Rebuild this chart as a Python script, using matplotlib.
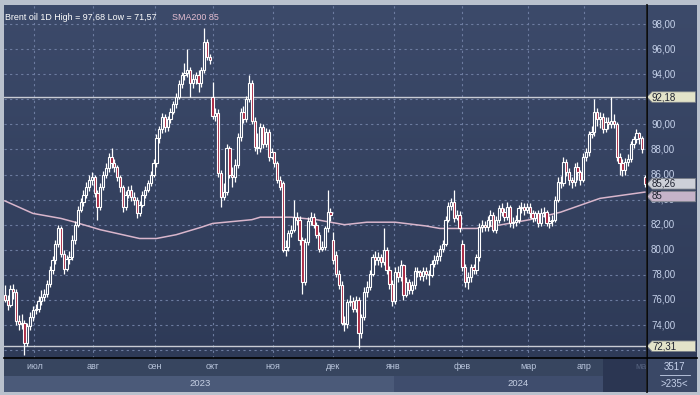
import numpy as np
import matplotlib
matplotlib.use("Agg")
import matplotlib.pyplot as plt
from matplotlib.patches import Rectangle, Polygon
from matplotlib.lines import Line2D

# daily candles, Brent oil, mid-June 2023 .. early May 2024
opens = [
    76.4, 76.0, 75.6, 76.9, 76.6, 74.3, 74.1, 74.2, 72.6, 73.9,
    74.6, 75.2, 75.3, 75.9, 76.2, 76.5, 77.3, 78.4, 79.2, 80.5,
    81.7, 79.7, 78.5, 79.3, 79.4, 80.8, 82.0, 83.2, 83.8, 84.4,
    85.0, 85.6, 85.8, 84.5, 83.4, 85.0, 86.0, 86.5, 87.4, 86.9,
    86.6, 85.8, 85.0, 83.4, 84.4, 84.8, 84.2, 84.0, 82.9, 83.6,
    84.4, 84.8, 85.3, 86.0, 86.9, 88.9, 89.6, 90.6, 89.8, 90.4,
    91.0, 91.6, 92.2, 93.2, 93.9, 94.1, 94.3, 93.3, 93.6, 93.9,
    93.3, 94.3, 96.6, 95.4, 92.2, 90.7, 90.9, 86.1, 84.2, 84.6,
    88.1, 86.0, 85.8, 86.8, 89.0, 91.0, 90.4, 92.0, 93.3, 90.3,
    88.2, 88.1, 89.8, 88.4, 89.4, 87.4, 87.8, 86.9, 85.6, 85.3,
    80.0, 80.2, 81.3, 81.6, 82.6, 82.4, 80.8, 77.4, 80.6, 82.3,
    82.6, 82.0, 81.2, 80.1, 80.2, 81.7, 83.0, 80.8, 79.6, 78.1,
    77.2, 74.2, 74.1, 75.8, 75.9, 75.3, 76.0, 73.4, 74.6, 76.6,
    77.0, 78.1, 79.4, 79.2, 79.4, 79.0, 80.0, 78.4, 77.3, 75.9,
    78.2, 77.8, 78.8, 76.4, 77.4, 76.8, 77.2, 78.3, 78.2, 77.9,
    78.3, 78.1, 78.0, 78.9, 79.2, 79.5, 80.1, 80.5, 82.4, 83.5,
    83.8, 82.5, 82.8, 80.5, 78.6, 77.4, 77.8, 78.6, 78.4, 79.4,
    81.8, 82.0, 81.8, 82.4, 82.8, 81.6, 82.4, 83.3, 83.0, 82.6,
    83.4, 82.1, 82.2, 82.4, 83.3, 83.4, 83.2, 83.4, 82.9, 82.5,
    82.9, 82.1, 82.9, 83.0, 82.1, 82.3, 82.4, 84.0, 85.4, 85.3,
    87.0, 86.2, 85.6, 85.4, 86.6, 86.2, 85.6, 87.4, 87.8, 89.2,
    89.4, 91.0, 90.4, 90.6, 89.6, 90.2, 90.0, 90.3, 90.0, 87.4,
    86.9, 86.4, 87.0, 87.2, 88.4, 88.8, 89.3, 88.9, 85.8,
]
highs = [
    77.2, 76.4, 77.2, 77.3, 76.9, 74.8, 74.9, 74.4, 74.2, 75.0,
    75.5, 75.7, 76.3, 76.8, 76.9, 77.6, 78.7, 79.5, 80.8, 82.0,
    81.9, 80.0, 79.6, 79.9, 81.2, 82.3, 83.5, 84.1, 84.8, 85.4,
    86.0, 86.2, 86.0, 84.8, 85.3, 86.3, 86.9, 87.7, 88.1, 87.2,
    86.8, 86.0, 85.2, 84.7, 85.1, 85.2, 84.6, 84.2, 83.9, 84.7,
    85.1, 85.6, 86.3, 87.2, 89.2, 89.9, 90.9, 90.8, 90.7, 91.3,
    91.9, 92.5, 93.5, 94.2, 94.9, 96.0, 94.6, 94.0, 94.2, 94.3,
    94.6, 97.7, 96.8, 95.6, 93.4, 91.3, 91.2, 86.4, 85.3, 88.4,
    88.3, 86.6, 87.2, 89.3, 91.3, 91.5, 92.3, 93.9, 93.5, 90.6,
    89.3, 90.1, 90.0, 89.7, 89.6, 88.1, 87.8, 87.1, 85.9, 85.5,
    80.8, 81.6, 82.0, 84.0, 83.0, 82.7, 81.0, 80.9, 82.6, 83.0,
    82.9, 82.2, 81.4, 80.7, 81.9, 84.8, 83.3, 81.4, 79.9, 78.4,
    77.5, 74.7, 76.1, 76.4, 76.2, 76.3, 76.2, 74.9, 77.0, 77.5,
    78.4, 79.7, 79.9, 79.8, 79.7, 81.7, 80.2, 78.7, 77.6, 78.6,
    78.7, 79.2, 78.9, 77.8, 77.7, 77.5, 78.6, 78.6, 78.4, 78.6,
    78.6, 78.4, 79.2, 79.6, 79.8, 80.4, 80.8, 82.7, 83.8, 84.1,
    84.8, 83.2, 83.1, 80.8, 78.9, 78.2, 78.9, 78.9, 79.7, 82.1,
    82.4, 82.3, 82.7, 83.2, 83.0, 82.7, 83.6, 83.7, 83.3, 83.8,
    83.6, 82.6, 82.8, 83.6, 83.8, 83.7, 83.7, 83.7, 83.2, 83.1,
    83.2, 83.3, 83.4, 83.2, 82.7, 82.8, 84.3, 85.8, 85.9, 87.4,
    87.2, 86.5, 85.8, 86.9, 87.0, 86.4, 87.7, 88.1, 89.5, 89.9,
    92.0, 91.3, 91.0, 90.9, 90.6, 90.6, 92.2, 90.8, 90.2, 87.7,
    87.2, 87.3, 87.6, 88.7, 89.1, 89.6, 89.4, 89.1, 86.0,
]
lows = [
    75.8, 75.2, 75.4, 76.1, 74.0, 73.6, 73.7, 71.6, 72.3, 73.6,
    74.3, 74.9, 75.0, 75.6, 75.9, 76.2, 77.0, 78.1, 78.9, 80.2,
    79.4, 78.1, 78.3, 78.9, 79.2, 80.5, 81.8, 83.0, 83.5, 84.1,
    84.7, 85.2, 84.2, 82.4, 83.2, 84.8, 85.7, 86.2, 86.5, 86.2,
    85.5, 84.6, 83.0, 83.2, 84.1, 83.9, 83.6, 82.5, 82.7, 83.4,
    84.1, 84.6, 85.1, 85.8, 86.6, 88.5, 89.3, 89.4, 89.5, 90.1,
    90.8, 91.3, 92.0, 92.9, 93.5, 93.8, 92.2, 92.9, 93.2, 92.6,
    93.0, 94.1, 95.1, 94.8, 90.4, 90.3, 85.8, 83.4, 84.0, 84.4,
    85.7, 85.0, 85.4, 86.5, 88.7, 90.1, 90.2, 91.8, 90.0, 87.9,
    87.6, 87.8, 88.1, 88.2, 87.1, 87.2, 86.6, 85.3, 84.8, 79.8,
    79.5, 79.9, 81.0, 81.4, 82.0, 80.4, 76.5, 77.2, 80.4, 82.0,
    81.7, 80.9, 79.8, 79.9, 80.0, 81.4, 82.3, 78.9, 77.8, 76.9,
    74.0, 73.5, 73.8, 75.5, 75.0, 75.0, 72.2, 73.0, 74.4, 76.2,
    76.8, 77.9, 78.8, 78.8, 78.6, 78.8, 78.1, 76.9, 75.5, 75.7,
    77.4, 77.5, 76.0, 76.2, 76.5, 76.5, 76.9, 77.8, 77.6, 77.5,
    77.7, 77.2, 77.8, 78.6, 78.9, 79.1, 79.8, 80.3, 82.2, 83.2,
    82.2, 82.4, 81.4, 78.3, 77.0, 76.9, 77.4, 78.1, 78.1, 79.1,
    81.4, 81.5, 81.5, 81.9, 81.4, 81.3, 82.1, 82.7, 82.3, 82.4,
    81.8, 81.7, 81.9, 82.1, 82.9, 82.8, 82.9, 82.5, 82.2, 82.3,
    81.8, 81.9, 82.6, 81.9, 81.7, 81.9, 82.2, 83.8, 84.9, 85.1,
    85.9, 85.2, 84.9, 85.1, 85.6, 85.2, 85.4, 87.1, 87.5, 88.9,
    89.1, 89.9, 89.7, 89.3, 89.4, 89.6, 89.7, 89.7, 87.1, 86.0,
    85.9, 86.0, 86.7, 87.0, 88.1, 88.5, 88.4, 87.7, 85.0,
]
closes = [
    76.0, 75.6, 76.9, 76.6, 74.3, 74.1, 74.2, 72.6, 73.9, 74.6,
    75.2, 75.3, 75.9, 76.2, 76.5, 77.3, 78.4, 79.2, 80.5, 81.7,
    79.7, 78.5, 79.3, 79.4, 80.8, 82.0, 83.2, 83.8, 84.4, 85.0,
    85.6, 85.8, 84.5, 83.4, 85.0, 86.0, 86.5, 87.4, 86.9, 86.6,
    85.8, 85.0, 83.4, 84.4, 84.8, 84.2, 84.0, 82.9, 83.6, 84.4,
    84.8, 85.3, 86.0, 86.9, 88.9, 89.6, 90.6, 89.8, 90.4, 91.0,
    91.6, 92.2, 93.2, 93.9, 94.1, 94.3, 93.3, 93.6, 93.9, 93.3,
    94.3, 96.6, 95.4, 95.1, 90.7, 90.9, 86.1, 84.2, 84.6, 88.1,
    86.0, 85.8, 86.8, 89.0, 91.0, 90.4, 92.0, 93.3, 90.3, 88.2,
    88.1, 89.8, 88.4, 89.4, 87.4, 87.8, 86.9, 85.6, 85.0, 80.0,
    80.2, 81.3, 81.6, 82.6, 82.4, 80.8, 77.4, 80.6, 82.3, 82.6,
    82.0, 81.2, 80.1, 80.2, 81.7, 83.0, 82.8, 79.2, 78.1, 77.2,
    74.2, 74.1, 75.8, 75.9, 75.3, 76.0, 73.4, 74.6, 76.6, 77.0,
    78.1, 79.4, 79.2, 79.4, 79.0, 80.0, 78.4, 77.3, 75.9, 78.2,
    77.8, 78.8, 76.4, 77.4, 76.8, 77.2, 78.3, 78.2, 77.9, 78.3,
    78.1, 78.0, 78.9, 79.2, 79.5, 80.1, 80.5, 82.4, 83.5, 83.8,
    82.5, 82.8, 81.7, 78.6, 77.4, 77.8, 78.6, 78.4, 79.4, 81.8,
    82.0, 81.8, 82.4, 82.8, 81.6, 82.4, 83.3, 83.0, 82.6, 83.4,
    82.1, 82.2, 82.4, 83.3, 83.4, 83.2, 83.4, 82.9, 82.5, 82.9,
    82.1, 82.9, 83.0, 82.1, 82.3, 82.4, 84.0, 85.4, 85.3, 87.0,
    86.2, 85.6, 85.4, 86.6, 86.2, 85.6, 87.4, 87.8, 89.2, 89.4,
    91.0, 90.4, 90.6, 89.6, 90.2, 90.0, 90.3, 90.0, 87.4, 86.9,
    86.4, 87.0, 87.2, 88.4, 88.8, 89.3, 88.9, 88.0, 85.26,
]

# SMA200 read at a few bars
sma_idx = [0, 10, 20, 25, 34, 48, 54, 61, 70, 74, 88, 91, 102, 111, 121, 129, 139, 150, 155, 168, 177, 187, 198, 212, 228]
sma_val = [83.9, 82.9, 82.5, 82.2, 81.6, 80.9, 80.9, 81.2, 81.8, 82.1, 82.4, 82.6, 82.6, 82.4, 82.0, 82.2, 82.2,
           81.9, 81.7, 81.7, 82.0, 82.4, 83.0, 84.1, 84.6]

month_pos = [10.5, 31.5, 53.5, 74.0, 95.5, 117.0, 138.5, 163.0, 186.5, 206.5]
month_names = ["июл", "авг", "сен", "окт", "ноя", "дек", "янв", "фев", "мар", "апр"]
year_pos = [69.5, 183.0]
year_names = ["2023", "2024"]
year_split = 138.5
data_end = 213.0

y_ticks = list(range(72, 100, 2))
hidden_ticks = [72, 92]  # covered by the level tags
level_hi = 92.18
level_lo = 72.31
last_price = 85.26
sma_last = 84.55

W, H = 700, 395
BG_TOP = "#3c4a6a"
BG_BOT = "#2e3a57"
TXT = "#c6d2ea"
FONT = "Liberation Sans"


def px_rect(x0, y0, x1, y1):
    return [x0 / W, 1 - y1 / H, (x1 - x0) / W, (y1 - y0) / H]


def gradient(ax):
    grad = np.linspace(0, 1, 256).reshape(-1, 1)
    cmap = matplotlib.colors.LinearSegmentedColormap.from_list("bg", [BG_TOP, BG_BOT])
    ax.imshow(grad, cmap=cmap, aspect="auto", extent=[0, 1, 0, 1],
              transform=ax.transAxes, zorder=0, interpolation="bicubic")


fig = plt.figure(figsize=(W / 100, H / 100), dpi=100, facecolor="#b9c1cd")

ymin, ymax = 71.37, 99.52
xmin = -0.3
xmax = xmin + 642 / 2.807

# main price pane
ax = fig.add_axes(px_rect(4, 5, 646, 358))
gradient(ax)
ax.set_xlim(xmin, xmax)
ax.set_ylim(ymin, ymax)
ax.axis("off")

for v in y_ticks:
    ax.axhline(v, color="#6d7ca0", lw=0.8, ls=(0, (2, 3)), zorder=1)
for m in month_pos:
    ax.axvline(m, color="#6d7ca0", lw=0.8, ls=(0, (2, 3)), zorder=1)

ax.axhline(level_hi, color="#c9ccd4", lw=1.0, zorder=2)
ax.axhline(level_lo, color="#c9ccd4", lw=1.0, zorder=2)

ax.plot(sma_idx, sma_val, color="#d9b6cc", lw=1.1, zorder=2)

for i in range(len(closes)):
    o, h, l, c = opens[i], highs[i], lows[i], closes[i]
    ax.vlines(i, l, h, color="white", lw=0.9, zorder=3)
    fc = "#a8233f" if c < o else "#33415f"
    body = Rectangle((i - 0.4, min(o, c)), 0.8, max(abs(c - o), 0.06),
                     facecolor=fc, edgecolor="white", lw=0.8, zorder=4)
    ax.add_patch(body)

ax.text(0.002, 0.978, "Brent oil 1D High = 97,68 Low = 71,57", transform=ax.transAxes,
        color="white", fontsize=6.4, va="top", ha="left", family=FONT, zorder=6)
ax.text(0.262, 0.978, "SMA200 85", transform=ax.transAxes,
        color="#e6bfd2", fontsize=6.4, va="top", ha="left", family=FONT, zorder=6)

# right price scale
axr = fig.add_axes(px_rect(647, 5, 697, 358))
gradient(axr)
axr.set_xlim(0, 1)
axr.set_ylim(ymin, ymax)
axr.axis("off")
for v in y_ticks:
    if v in hidden_ticks:
        continue
    axr.text(0.08, v, f"{v:.2f}".replace(".", ","), color=TXT, fontsize=7,
             va="center", ha="left", family=FONT, zorder=2)


def price_tag(val, text, color):
    hh = 0.42
    pts = [(0.0, val), (0.1, val + hh), (0.97, val + hh), (0.97, val - hh), (0.1, val - hh)]
    axr.add_patch(Polygon(pts, closed=True, facecolor=color, edgecolor="#7a7f88", lw=0.6, zorder=3))
    axr.text(0.1, val, text, color="#1e2230", fontsize=7, va="center", ha="left",
             family=FONT, zorder=4)


price_tag(level_hi, "92,18", "#e3e3c9")
price_tag(level_lo, "72,31", "#e3e3c9")
price_tag(last_price, "85,26", "#cdd0d8")
price_tag(sma_last - 0.3, "85", "#c5b3c9")

# time axis
axb = fig.add_axes(px_rect(4, 358, 646, 392))
axb.set_xlim(xmin, xmax)
axb.set_ylim(0, 1)
axb.axis("off")
axb.add_patch(Rectangle((xmin, 0.47), data_end - xmin, 0.53, facecolor="#37455f", lw=0))
axb.add_patch(Rectangle((xmin, 0), year_split - xmin, 0.47, facecolor="#4b5a79", lw=0))
axb.add_patch(Rectangle((year_split, 0), data_end - year_split, 0.47, facecolor="#3f4d6d", lw=0))
axb.add_patch(Rectangle((data_end, 0), xmax - data_end, 1, facecolor="#2b3652", lw=0))
for m, name in zip(month_pos, month_names):
    axb.text(m, 0.74, name, color="#b9c5dc", fontsize=6.5, ha="center", va="center", family=FONT)
axb.text(226.5, 0.74, "ма", color="#55627e", fontsize=6.5, ha="center", va="center", family=FONT)
for p, name in zip(year_pos, year_names):
    axb.text(p, 0.24, name, color="#c6d0e4", fontsize=6.8, ha="center", va="center", family=FONT)

# corner box
axc = fig.add_axes(px_rect(647, 358, 697, 392))
axc.set_xlim(0, 1)
axc.set_ylim(0, 1)
axc.axis("off")
axc.add_patch(Rectangle((0, 0), 1, 1, facecolor="#3a4866", lw=0))
axc.text(0.55, 0.74, "3517", color=TXT, fontsize=7, ha="center", va="center", family=FONT)
axc.plot([0.25, 0.85], [0.5, 0.5], color=TXT, lw=0.6)
axc.text(0.55, 0.24, ">235<", color=TXT, fontsize=7, ha="center", va="center", family=FONT)

# pane separators
fig.add_artist(Line2D([646.5 / W, 646.5 / W], [1 - 392 / H, 1 - 5 / H], color="black", lw=1.2,
                      transform=fig.transFigure))
fig.add_artist(Line2D([4 / W, 697 / W], [1 - 358 / H, 1 - 358 / H], color="black", lw=1.2,
                      transform=fig.transFigure))

fig.savefig("out.png", dpi=100, facecolor=fig.get_facecolor())
